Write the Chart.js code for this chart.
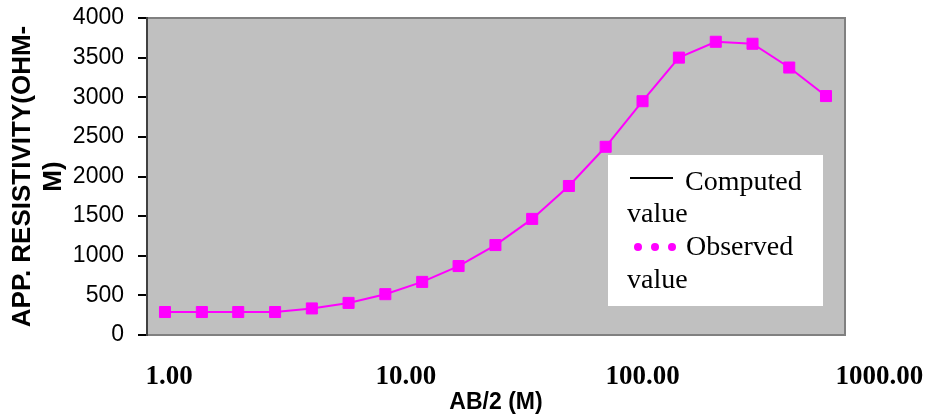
<!DOCTYPE html>
<html>
<head>
<meta charset="utf-8">
<script src="https://cdn.jsdelivr.net/npm/chart.js@4"></script>
<style>
  body { margin: 0; background: #fff; }
  #wrap { width: 925px; height: 417px; }
</style>
</head>
<body>
<div id="wrap"><canvas id="vesChart" width="925" height="417"></canvas></div>
<script>
// AB/2 spacing (m) and observed apparent resistivity (ohm-m)
const abHalf = [1.00, 1.47, 2.15, 3.16, 4.64, 6.81, 10.0, 14.7, 21.5, 31.6, 46.4, 68.1, 100, 147, 215, 316, 464, 681, 1000];
const observed = [290, 290, 290, 290, 335, 405, 515, 670, 870, 1135, 1465, 1880, 2375, 2950, 3500, 3700, 3675, 3375, 3015];
const xTicks = [1, 10, 100, 1000];
const legendNames = [['Computed', 'value'], ['Observed', 'value']];

const magenta = '#FF00FF';

// grey plot area with a thin frame, like the spreadsheet original
const plotBg = {
    id: 'plotBg',
    beforeDraw(chart) {
        const {ctx, chartArea: a} = chart;
        ctx.save();
        ctx.fillStyle = '#C0C0C0';
        ctx.fillRect(a.left, a.top, a.right - a.left, a.bottom - a.top);
        ctx.strokeStyle = '#808080';
        ctx.lineWidth = 2;
        ctx.strokeRect(a.left, a.top, a.right - a.left, a.bottom - a.top);
        ctx.restore();
    }
};

// legend box with wrapped labels
const boxLegend = {
    id: 'boxLegend',
    afterDraw(chart) {
        const ctx = chart.ctx;
        ctx.save();
        ctx.fillStyle = '#fff';
        ctx.fillRect(608, 155, 215, 151);
        ctx.fillStyle = '#000';
        ctx.font = '28px "Liberation Serif", "Times New Roman", serif';
        ctx.textBaseline = 'alphabetic';

        // computed: solid black line
        ctx.strokeStyle = '#000';
        ctx.lineWidth = 2;
        ctx.beginPath();
        ctx.moveTo(630, 178);
        ctx.lineTo(673, 178);
        ctx.stroke();
        ctx.fillText(legendNames[0][0], 685, 190);
        ctx.fillText(legendNames[0][1], 627, 222);

        // observed: three dots
        ctx.fillStyle = magenta;
        [638, 655, 672].forEach(x => {
            ctx.beginPath();
            ctx.arc(x, 247, 4, 0, Math.PI * 2);
            ctx.fill();
        });
        ctx.fillStyle = '#000';
        ctx.fillText(legendNames[1][0], 686, 255);
        ctx.fillText(legendNames[1][1], 627, 288);
        ctx.restore();
    }
};

const ctx = document.getElementById('vesChart').getContext('2d');
const chart = new Chart(ctx, {
    type: 'line',
    data: {
        datasets: [{
            label: 'Observed value',
            data: abHalf.map((x, i) => ({x: x, y: observed[i]})),
            xAxisID: 'x',
            borderColor: magenta,
            backgroundColor: magenta,
            borderWidth: 2,
            pointStyle: 'rect',
            pointRadius: 7.8,
            pointBorderWidth: 1,
            pointBorderColor: magenta,
            pointBackgroundColor: magenta,
            tension: 0
        }]
    },
    options: {
        responsive: false,
        animation: false,
        layout: { padding: { top: 18, right: 80, left: 0, bottom: 0 } },
        plugins: {
            legend: { display: false },
            tooltip: { enabled: false }
        },
        scales: {
            // data axis (log spacing of the soundings)
            x: {
                type: 'logarithmic',
                display: false,
                min: 0.8286,
                max: 1219.6
            },
            // label axis: the spreadsheet put its decade labels a bit off the data grid
            xLabels: {
                type: 'logarithmic',
                position: 'bottom',
                min: 0.8074,
                max: 715.5,
                afterBuildTicks: scale => { scale.ticks = xTicks.map(v => ({value: v})); },
                afterFit: scale => {
                    scale.height = 82;
                    scale.paddingLeft = 0;
                    scale.paddingRight = 0;
                },
                grid: { display: false, drawTicks: false },
                border: { display: false },
                ticks: {
                    autoSkip: false,
                    maxRotation: 0,
                    padding: 26,
                    color: '#000',
                    font: { family: '"Liberation Serif", "Times New Roman", serif', size: 27, weight: 'bold' },
                    callback: v => Number(v).toFixed(2)
                },
                title: {
                    display: true,
                    text: 'AB/2 (M)',
                    color: '#000',
                    padding: { top: 0, bottom: 1 },
                    font: { family: '"Liberation Sans", Arial, sans-serif', size: 23, weight: 'bold' }
                }
            },
            y: {
                min: 0,
                max: 4000,
                afterFit: scale => {
                    scale.width = 147;
                    scale.paddingTop = 0;
                    scale.paddingBottom = 0;
                },
                grid: { drawOnChartArea: false, tickLength: 9, color: '#000', lineWidth: 2 },
                border: { color: '#404040', width: 2 },
                ticks: {
                    stepSize: 500,
                    padding: 14,
                    color: '#000',
                    font: { family: '"Liberation Sans", Arial, sans-serif', size: 23 },
                    callback: v => String(v)
                },
                title: {
                    display: true,
                    text: ['APP. RESISTIVITY(OHM-', 'M)'],
                    color: '#000',
                    padding: { top: 7, bottom: 0 },
                    font: { family: '"Liberation Sans", Arial, sans-serif', size: 26, weight: 'bold', lineHeight: 1.2 }
                }
            }
        }
    },
    plugins: [plotBg, boxLegend]
});
</script>
</body>
</html>
